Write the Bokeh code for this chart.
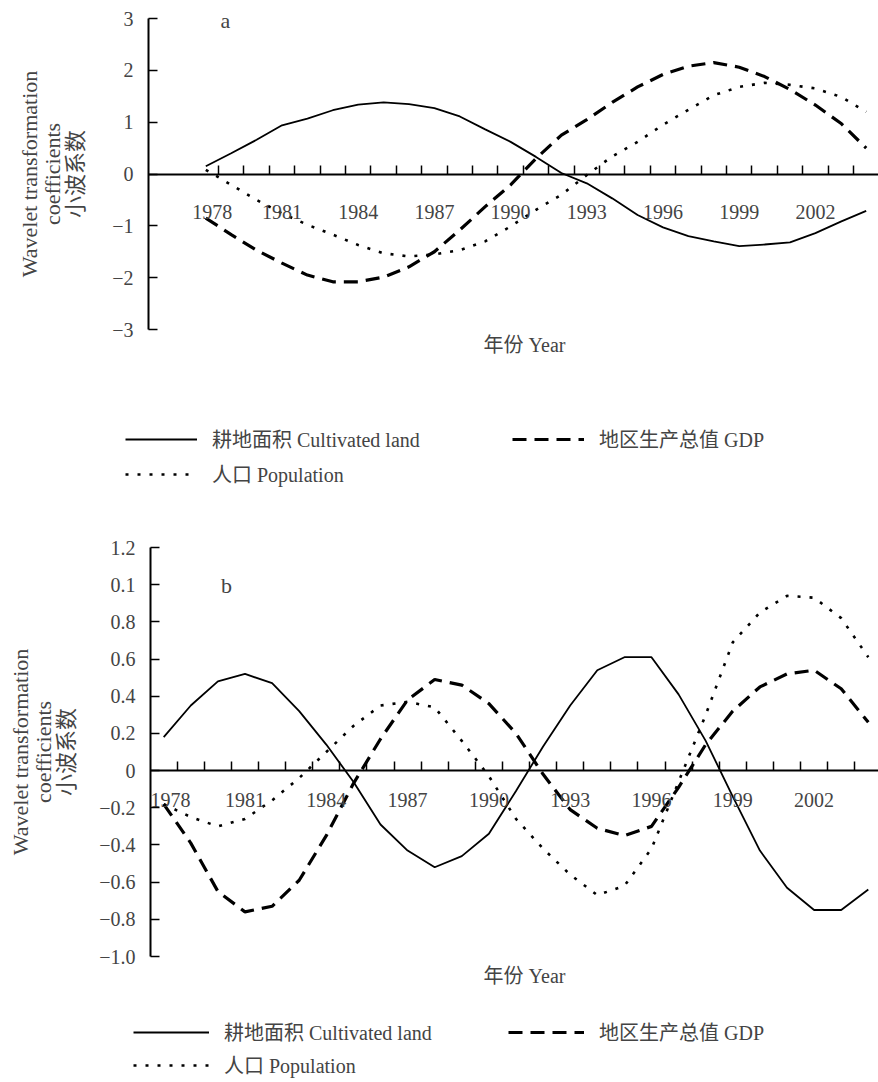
from bokeh.plotting import figure
from bokeh.models import (Range1d, FixedTicker, LinearAxis, CustomJSTickFormatter,
                          Label, Legend, LegendItem)
from bokeh.layouts import column
from bokeh.embed import file_html
from bokeh.resources import INLINE

years = list(range(1978, 2005))

# Panel a
a_land = [0.15, 0.40, 0.66, 0.94, 1.07, 1.23, 1.34, 1.38, 1.35, 1.27, 1.11, 0.86, 0.62,
          0.33, 0.02, -0.18, -0.47, -0.79, -1.03, -1.20, -1.30, -1.39, -1.36, -1.32,
          -1.14, -0.92, -0.71]
a_gdp = [-0.85, -1.17, -1.47, -1.72, -1.95, -2.08, -2.08, -1.99, -1.79, -1.50, -1.08,
         -0.63, -0.21, 0.30, 0.75, 1.05, 1.38, 1.68, 1.92, 2.08, 2.15, 2.06, 1.88, 1.63,
         1.33, 0.98, 0.50]
a_pop = [0.08, -0.21, -0.50, -0.76, -0.98, -1.17, -1.37, -1.53, -1.59, -1.55, -1.47,
         -1.30, -1.01, -0.69, -0.40, -0.02, 0.34, 0.62, 0.95, 1.24, 1.52, 1.68, 1.76,
         1.72, 1.65, 1.49, 1.20]

# Panel b
b_land = [0.18, 0.35, 0.48, 0.52, 0.47, 0.32, 0.14, -0.06, -0.29, -0.43, -0.52, -0.46,
          -0.34, -0.11, 0.13, 0.35, 0.54, 0.61, 0.61, 0.41, 0.16, -0.14, -0.43, -0.63,
          -0.75, -0.75, -0.64]
b_gdp = [-0.18, -0.39, -0.65, -0.76, -0.73, -0.59, -0.35, -0.07, 0.17, 0.38, 0.49, 0.46,
         0.36, 0.20, -0.02, -0.21, -0.31, -0.35, -0.30, -0.09, 0.14, 0.32, 0.45, 0.52,
         0.54, 0.44, 0.26]
b_pop = [-0.18, -0.25, -0.30, -0.26, -0.16, -0.04, 0.10, 0.24, 0.35, 0.37, 0.34, 0.16,
         -0.03, -0.26, -0.42, -0.56, -0.67, -0.62, -0.42, -0.06, 0.30, 0.69, 0.85, 0.94,
         0.93, 0.82, 0.61]

a_yticks = [-3, -2, -1, 0, 1, 2, 3]
a_ylabels = ["\u22123", "\u22122", "\u22121", "0", "1", "2", "3"]
b_yticks = [-1.0, -0.8, -0.6, -0.4, -0.2, 0.0, 0.2, 0.4, 0.6, 0.8, 1.0, 1.2]
b_ylabels = ["\u22121.0", "\u22120.8", "\u22120.6", "\u22120.4", "\u22120.2", "0",
             "0.2", "0.4", "0.6", "0.8", "0.1", "1.2"]
year_labels = [1978, 1981, 1984, 1987, 1990, 1993, 1996, 1999, 2002]

ylabel_text = "Wavelet transformation\ncoefficients\n\u5c0f\u6ce2\u7cfb\u6570"
xlabel_text = "\u5e74\u4efd Year"
series_names = ["\u8015\u5730\u9762\u79ef Cultivated land",
                "\u5730\u533a\u751f\u4ea7\u603b\u503c GDP",
                "\u4eba\u53e3 Population"]

FONT = "Liberation Serif, Noto Sans CJK SC"
W = 878

NEAREST = """
let best = 0, d = Infinity;
for (let i = 0; i < vals.length; i++) {
  const e = Math.abs(vals[i] - tick);
  if (e < d) { d = e; best = i; }
}
return labs[best];
"""

STYLES = [dict(line_color="black", line_width=1.8),
          dict(line_color="black", line_width=3.2, line_dash="14 8"),
          dict(line_color="black", line_width=2.6, line_dash="3 9")]


def make_panel(series, yticks, ylabels, height, px_year, x1978, y_top_px, y_bot_px,
               ylo, yhi, axis_px, label_standoff, xstand, letter, letter_px, xlab_px,
               leg_x1, leg_x2, leg_y1, leg_y2, gw):
    # linear maps between pixels (within this figure) and data
    def xdata(px):
        return 1978 + (px - x1978) / px_year

    ppu = (y_bot_px - y_top_px) / (yhi - ylo)

    def ydata(py):
        return yhi - (py - y_top_px) / ppu

    p = figure(width=W, height=height, output_backend="svg", toolbar_location=None,
               x_range=Range1d(xdata(0), xdata(W)), y_range=Range1d(ydata(height), ydata(0)),
               x_axis_location=None, y_axis_location=None, min_border=0)
    p.outline_line_color = None
    p.xgrid.visible = False
    p.ygrid.visible = False

    x_axis_pos = xdata(axis_px)
    yax = LinearAxis(ticker=FixedTicker(ticks=yticks), fixed_location=x_axis_pos,
                     bounds=(ylo, yhi),
                     formatter=CustomJSTickFormatter(args=dict(vals=yticks, labs=ylabels),
                                                     code=NEAREST),
                     axis_label=ylabel_text,
                     axis_label_text_font=FONT, axis_label_text_font_size="22px",
                     axis_label_text_font_style="normal", axis_label_standoff=label_standoff,
                     axis_label_text_line_height=0.92,
                     major_tick_in=9, major_tick_out=0, minor_tick_in=0, minor_tick_out=0,
                     major_tick_line_width=1.5, axis_line_width=2,
                     major_label_standoff=15, major_label_text_font=FONT,
                     major_label_text_font_size="20px")
    p.add_layout(yax, "left")

    bounds = [y + 0.5 for y in years]
    xax1 = LinearAxis(ticker=FixedTicker(ticks=bounds), fixed_location=0,
                      bounds=(x_axis_pos, xdata(W)),
                      formatter=CustomJSTickFormatter(code="return '';"),
                      major_tick_in=9, major_tick_out=0, minor_tick_in=0, minor_tick_out=0,
                      major_tick_line_width=1.5, axis_line_width=1.8)
    p.add_layout(xax1, "below")
    label_ticks = [year_labels[0] + 0.25] + year_labels[1:]
    xax2 = LinearAxis(ticker=FixedTicker(ticks=label_ticks), fixed_location=0,
                      formatter=CustomJSTickFormatter(code="return Math.round(tick).toString();"),
                      major_tick_in=0, major_tick_out=0, minor_tick_in=0, minor_tick_out=0,
                      axis_line_color=None, major_tick_line_color=None,
                      major_label_standoff=xstand, major_label_text_font=FONT,
                      major_label_text_font_size="20px")
    p.add_layout(xax2, "below")

    rs = [p.line(years, vals, **st) for vals, st in zip(series, STYLES)]

    p.add_layout(Label(x=xdata(letter_px[0]), y=ydata(letter_px[1]), text=letter,
                       text_font=FONT, text_font_size="22px", text_align="center",
                       text_baseline="middle"))
    p.add_layout(Label(x=xdata(xlab_px[0]), y=ydata(xlab_px[1]), text=xlabel_text,
                       text_font=FONT, text_font_size="20px", text_align="center",
                       text_baseline="middle"))

    def leg(i, loc):
        return Legend(items=[LegendItem(label=series_names[i], renderers=[rs[i]])],
                      location=loc, orientation="horizontal", padding=0, margin=0,
                      border_line_color=None, background_fill_alpha=0,
                      glyph_width=gw, glyph_height=20, label_height=20, label_standoff=15,
                      label_text_font=FONT, label_text_font_size="20px", spacing=0)

    # legend rows: (left px, centre px from figure top) -> offset from bottom-left
    p.add_layout(leg(0, (leg_x1, height - leg_y1 - 10)))
    p.add_layout(leg(1, (leg_x2, height - leg_y1 - 10)))
    p.add_layout(leg(2, (leg_x1, height - leg_y2 - 10)))
    return p


pa = make_panel([a_land, a_gdp, a_pop], a_yticks, a_ylabels, height=505,
                px_year=25.4, x1978=205.3, y_top_px=18, y_bot_px=329, ylo=-3, yhi=3,
                axis_px=148, label_standoff=21, xstand=31, letter="a",
                letter_px=(225, 20), xlab_px=(524, 344),
                leg_x1=125, leg_x2=512, leg_y1=443, leg_y2=478, gw=72)

pb = make_panel([b_land, b_gdp, b_pop], b_yticks, b_ylabels, height=577,
                px_year=27.1, x1978=163.2, y_top_px=42, y_bot_px=451, ylo=-1.0, yhi=1.2,
                axis_px=150, label_standoff=17, xstand=22, letter="b",
                letter_px=(226, 80), xlab_px=(524, 470),
                leg_x1=133, leg_x2=508, leg_y1=531, leg_y2=564, gw=76)

layout = column(pa, pb, spacing=0)
open("out.html", "w").write(file_html(layout, INLINE))
